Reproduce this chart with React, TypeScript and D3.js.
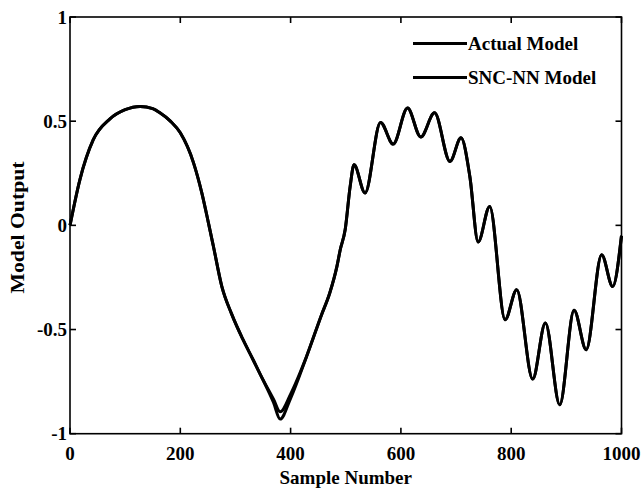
import React from "react";
import * as d3 from "d3";

const actualX = [0, 18, 42, 72, 100, 127, 150, 163, 182, 200, 224, 239, 251, 260, 275, 293, 314, 332, 345, 369, 381, 400, 429, 456, 471, 484, 490, 499, 508, 515, 535, 563, 586, 612, 636, 661, 689, 709, 725, 740, 761, 789, 810, 839, 862, 888, 914, 936, 964, 984, 1000];
const actualY = [0, 0.22, 0.41, 0.51, 0.555, 0.571, 0.56, 0.54, 0.5, 0.444, 0.3, 0.156, 0.012, -0.1, -0.29, -0.425, -0.55, -0.645, -0.715, -0.85, -0.93, -0.83, -0.629, -0.43, -0.325, -0.197, -0.117, -0.02, 0.187, 0.291, 0.155, 0.494, 0.39, 0.563, 0.424, 0.54, 0.307, 0.42, 0.235, -0.08, 0.091, -0.453, -0.309, -0.738, -0.469, -0.861, -0.408, -0.597, -0.141, -0.293, -0.05];

const sncX = [0, 18, 42, 72, 100, 127, 150, 163, 182, 200, 224, 239, 251, 260, 275, 293, 314, 332, 345, 369, 381, 400, 429, 456, 471, 484, 490, 499, 508, 515, 535, 563, 586, 612, 636, 661, 689, 709, 725, 740, 761, 789, 810, 839, 862, 888, 914, 936, 964, 984, 1000];
const sncY = [0, 0.22, 0.41, 0.51, 0.555, 0.571, 0.56, 0.54, 0.5, 0.444, 0.3, 0.156, 0.012, -0.1, -0.29, -0.425, -0.55, -0.645, -0.715, -0.835, -0.895, -0.81, -0.629, -0.43, -0.325, -0.197, -0.117, -0.02, 0.187, 0.291, 0.155, 0.494, 0.39, 0.563, 0.424, 0.54, 0.307, 0.42, 0.235, -0.08, 0.091, -0.453, -0.309, -0.738, -0.469, -0.861, -0.408, -0.597, -0.141, -0.293, -0.05];

const xTicks = [0, 200, 400, 600, 800, 1000];
const yTicks = [-1, -0.5, 0, 0.5, 1];
const yTickLabels = ["-1", "-0.5", "0", "0.5", "1"];
const seriesNames = ["Actual Model", "SNC-NN Model"];

const W = 644;
const H = 496;
const L = 70, R = 621.5, T = 17, B = 433.7;
const FONT = "'Liberation Serif', 'Times New Roman', serif";

export default function App() {
  const x = d3.scaleLinear().domain([0, 1000]).range([L, R]);
  const y = d3.scaleLinear().domain([-1, 1]).range([B, T]);
  const line = d3
    .line<[number, number]>()
    .x((d) => x(d[0]))
    .y((d) => y(d[1]))
    .curve(d3.curveMonotoneX);
  const actual = actualX.map((v, i) => [v, actualY[i]] as [number, number]);
  const snc = sncX.map((v, i) => [v, sncY[i]] as [number, number]);
  const tl = 6;
  return (
    <svg
      width={W}
      height={H}
      style={{ position: "absolute", left: 0, top: 0, display: "block", background: "#fff" }}
      fontFamily={FONT}
    >
      <rect x={0} y={0} width={W} height={H} fill="#fff" />
      <path d={line(actual) || ""} fill="none" stroke="#000" strokeWidth={3} strokeLinejoin="round" />
      <path d={line(snc) || ""} fill="none" stroke="#000" strokeWidth={3} strokeLinejoin="round" />
      <rect x={L} y={T} width={R - L} height={B - T} fill="none" stroke="#000" strokeWidth={1.6} />
      {xTicks.map((t) => (
        <g key={"x" + t}>
          <line x1={x(t)} x2={x(t)} y1={B} y2={B - tl} stroke="#000" strokeWidth={1.6} />
          <line x1={x(t)} x2={x(t)} y1={T} y2={T + tl} stroke="#000" strokeWidth={1.6} />
          <text x={x(t)} y={460} textAnchor="middle" fontSize={19} fontWeight="bold">
            {t}
          </text>
        </g>
      ))}
      {yTicks.map((t, i) => (
        <g key={"y" + t}>
          <line x1={L} x2={L + tl} y1={y(t)} y2={y(t)} stroke="#000" strokeWidth={1.6} />
          <line x1={R} x2={R - tl} y1={y(t)} y2={y(t)} stroke="#000" strokeWidth={1.6} />
          <text x={67} y={y(t)} dy="0.35em" textAnchor="end" fontSize={19} fontWeight="bold">
            {yTickLabels[i]}
          </text>
        </g>
      ))}
      <text x={(L + R) / 2} y={484} textAnchor="middle" fontSize={19} fontWeight="bold">
        Sample Number
      </text>
      <text
        transform="translate(24,227.5) rotate(-90)"
        textAnchor="middle"
        fontSize={19}
        fontWeight="bold"
        textLength={132}
        lengthAdjust="spacingAndGlyphs"
      >
        Model Output
      </text>
      {seriesNames.map((n, i) => (
        <g key={n}>
          <line x1={413} x2={467} y1={43.5 + i * 34} y2={43.5 + i * 34} stroke="#000" strokeWidth={3} />
          <text x={468} y={43.5 + i * 34} dy="0.35em" fontSize={19} fontWeight="bold">
            {n}
          </text>
        </g>
      ))}
    </svg>
  );
}
